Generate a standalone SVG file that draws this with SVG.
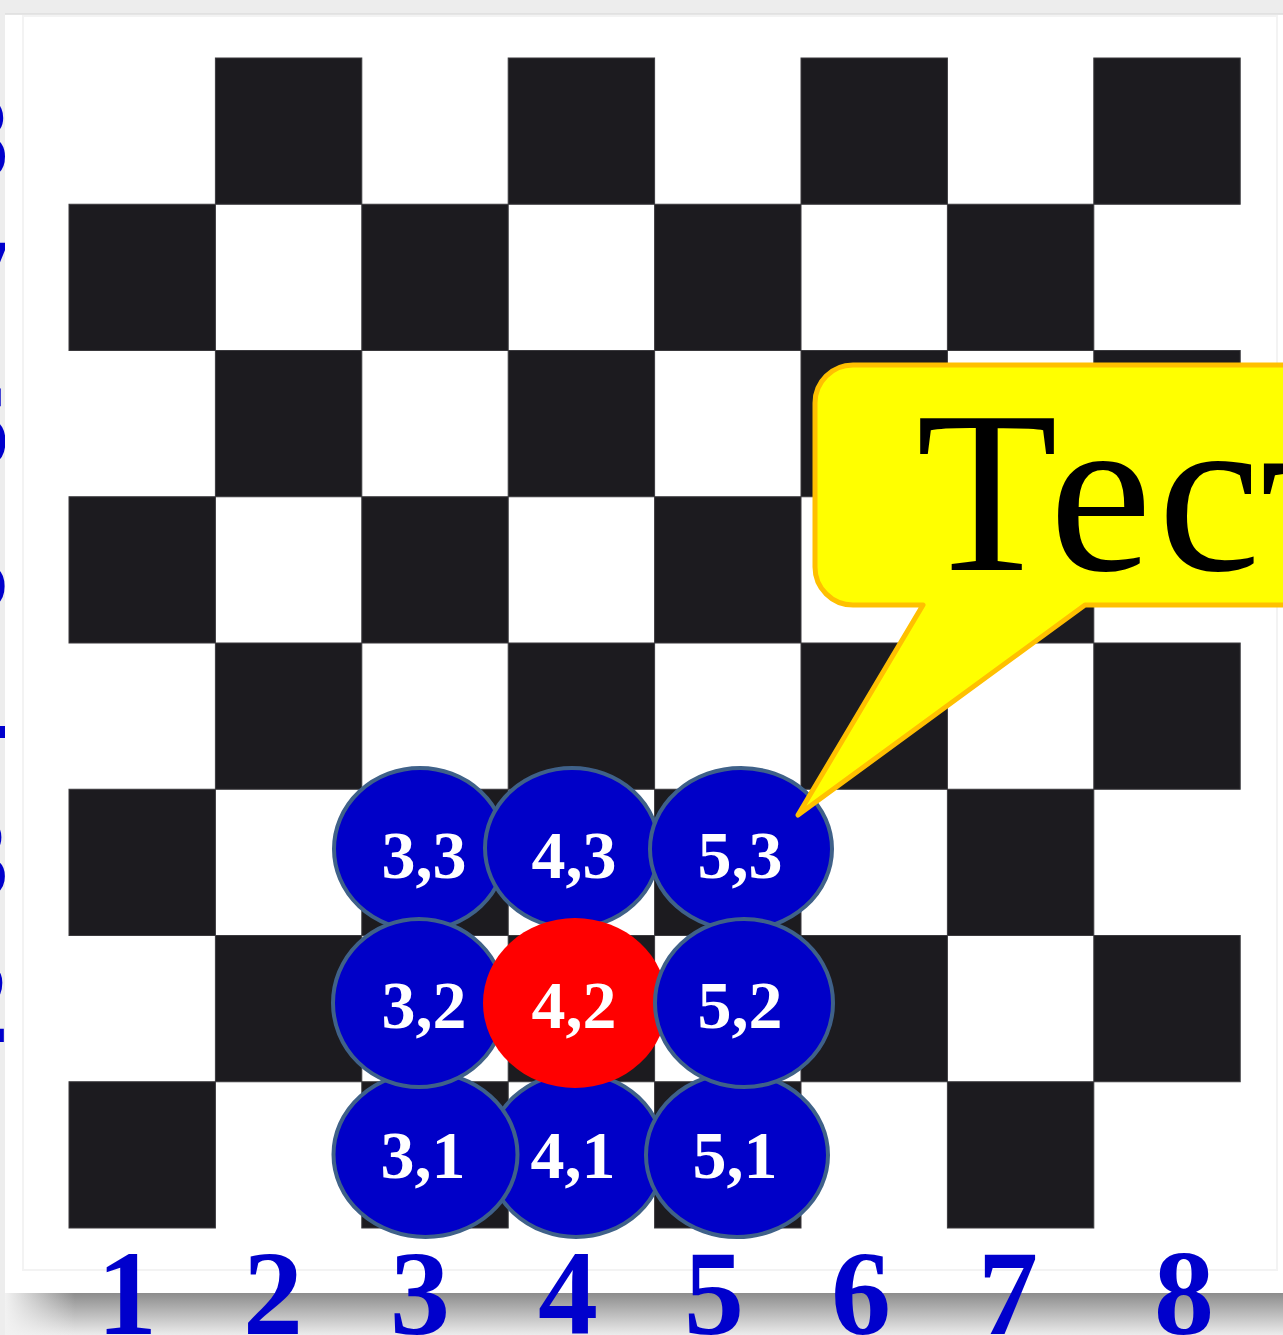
<svg xmlns="http://www.w3.org/2000/svg" width="1283" height="1335" viewBox="0 0 1283 1335">
  <style>
    .b { fill: #1c1b1f; stroke: #3a393d; stroke-width: 1; }
    .axis { font-family: "Liberation Serif", "Times New Roman", serif; font-weight: bold; font-size: 120px; fill: #0000cc; }
    .node { fill: #0000c8; stroke: #3f6189; stroke-width: 4; }
    .hot { fill: #ff0000; }
    .lbl { font-family: "Liberation Serif", "Times New Roman", serif; font-weight: bold; font-size: 68px; fill: #ffffff; text-anchor: middle; }
    .callout { fill: #ffff00; stroke: #ffc000; stroke-width: 5; stroke-linejoin: round; }
    .ctext { font-family: "Liberation Serif", "Times New Roman", serif; font-size: 232px; fill: #000000; }
  </style>
  <defs>
    <linearGradient id="shadow" x1="0" y1="0" x2="0" y2="1">
      <stop offset="0" stop-color="#8c8c8c"/>
      <stop offset="1" stop-color="#ececec"/>
    </linearGradient>
    <linearGradient id="shadowFade" x1="0" y1="0" x2="1" y2="0">
      <stop offset="0" stop-color="#f2f2f2" stop-opacity="1"/>
      <stop offset="1" stop-color="#f2f2f2" stop-opacity="0"/>
    </linearGradient>
  </defs>

  <!-- page background -->
  <rect x="0" y="0" width="1283" height="1335" fill="#ededed"/>

  <!-- left row labels (mostly hidden behind the panel) -->
  <g id="row-labels" class="axis" text-anchor="end">
    <text x="9" y="178">8</text>
    <text x="9" y="322">7</text>
    <text x="9" y="466">6</text>
    <text x="9" y="610">5</text>
    <text x="9" y="754">4</text>
    <text x="9" y="898">3</text>
    <text x="9" y="1042">2</text>
  </g>

  <!-- white panel -->
  <rect x="5" y="14" width="1278" height="1279" fill="#ffffff"/>
  <line x1="5" y1="14" x2="1283" y2="14" stroke="#dddddd" stroke-width="1.5"/>
  <rect x="23" y="16" width="1254" height="1254" fill="none" stroke="#f3f3f3" stroke-width="2"/>

  <!-- bottom shadow -->
  <rect x="5" y="1293" width="1278" height="42" fill="url(#shadow)"/>
  <rect x="5" y="1293" width="70" height="42" fill="url(#shadowFade)"/>

  <!-- chessboard -->
  <g id="board">
    <rect class="b" x="215.4" y="58" width="146.4" height="146.25"/>
    <rect class="b" x="508.2" y="58" width="146.4" height="146.25"/>
    <rect class="b" x="801" y="58" width="146.4" height="146.25"/>
    <rect class="b" x="1093.8" y="58" width="146.4" height="146.25"/>

    <rect class="b" x="69" y="204.25" width="146.4" height="146.25"/>
    <rect class="b" x="361.8" y="204.25" width="146.4" height="146.25"/>
    <rect class="b" x="654.6" y="204.25" width="146.4" height="146.25"/>
    <rect class="b" x="947.4" y="204.25" width="146.4" height="146.25"/>

    <rect class="b" x="215.4" y="350.5" width="146.4" height="146.25"/>
    <rect class="b" x="508.2" y="350.5" width="146.4" height="146.25"/>
    <rect class="b" x="801" y="350.5" width="146.4" height="146.25"/>
    <rect class="b" x="1093.8" y="350.5" width="146.4" height="146.25"/>

    <rect class="b" x="69" y="496.75" width="146.4" height="146.25"/>
    <rect class="b" x="361.8" y="496.75" width="146.4" height="146.25"/>
    <rect class="b" x="654.6" y="496.75" width="146.4" height="146.25"/>
    <rect class="b" x="947.4" y="496.75" width="146.4" height="146.25"/>

    <rect class="b" x="215.4" y="643" width="146.4" height="146.25"/>
    <rect class="b" x="508.2" y="643" width="146.4" height="146.25"/>
    <rect class="b" x="801" y="643" width="146.4" height="146.25"/>
    <rect class="b" x="1093.8" y="643" width="146.4" height="146.25"/>

    <rect class="b" x="69" y="789.25" width="146.4" height="146.25"/>
    <rect class="b" x="361.8" y="789.25" width="146.4" height="146.25"/>
    <rect class="b" x="654.6" y="789.25" width="146.4" height="146.25"/>
    <rect class="b" x="947.4" y="789.25" width="146.4" height="146.25"/>

    <rect class="b" x="215.4" y="935.5" width="146.4" height="146.25"/>
    <rect class="b" x="508.2" y="935.5" width="146.4" height="146.25"/>
    <rect class="b" x="801" y="935.5" width="146.4" height="146.25"/>
    <rect class="b" x="1093.8" y="935.5" width="146.4" height="146.25"/>

    <rect class="b" x="69" y="1081.75" width="146.4" height="146.25"/>
    <rect class="b" x="361.8" y="1081.75" width="146.4" height="146.25"/>
    <rect class="b" x="654.6" y="1081.75" width="146.4" height="146.25"/>
    <rect class="b" x="947.4" y="1081.75" width="146.4" height="146.25"/>
  </g>

  <!-- column labels -->
  <g id="col-labels" class="axis" text-anchor="middle">
    <text x="127" y="1334">1</text>
    <text x="273" y="1334">2</text>
    <text x="420" y="1334">3</text>
    <text x="568" y="1334">4</text>
    <text x="714" y="1334">5</text>
    <text x="861" y="1334">6</text>
    <text x="1008" y="1334">7</text>
    <text x="1184" y="1334">8</text>
  </g>

  <!-- connectors (the callout pointer is part of the callout shape) -->
  <g id="connectors"></g>

  <!-- nodes: bottom row -->
  <g id="n41"><ellipse class="node" cx="576" cy="1155" rx="88" ry="82"/><text class="lbl" x="573" y="1178">4,1</text></g>
  <g id="n31"><ellipse class="node" cx="425.5" cy="1154.5" rx="92" ry="82.5"/><text class="lbl" x="423" y="1178">3,1</text></g>
  <g id="n51"><ellipse class="node" cx="737" cy="1155" rx="91" ry="82"/><text class="lbl" x="735" y="1178">5,1</text></g>
  <!-- top row -->
  <g id="n33"><ellipse class="node" cx="420" cy="849" rx="86" ry="81"/><text class="lbl" x="424" y="878">3,3</text></g>
  <g id="n43"><ellipse class="node" cx="572" cy="848" rx="87" ry="80"/><text class="lbl" x="574" y="878">4,3</text></g>
  <g id="n53"><ellipse class="node" cx="741" cy="849" rx="91" ry="81"/><text class="lbl" x="740" y="878">5,3</text></g>
  <!-- middle row -->
  <g id="n32"><ellipse class="node" cx="419" cy="1003" rx="86" ry="84"/><text class="lbl" x="424" y="1028">3,2</text></g>
  <g id="n42"><ellipse class="hot" cx="575" cy="1003" rx="92" ry="85"/><text class="lbl" x="574" y="1028">4,2</text></g>
  <g id="n52"><ellipse class="node" cx="744" cy="1003" rx="89" ry="84"/><text class="lbl" x="740" y="1028">5,2</text></g>

  <!-- callout -->
  <g id="callout">
    <path class="callout" d="M 853 365 H 1300 V 605 H 1085 L 798 815 L 923 605 H 853 A 38 38 0 0 1 815 567 V 403 A 38 38 0 0 1 853 365 Z"/>
    <text class="ctext" x="916" y="570">Тест</text>
  </g>
</svg>
